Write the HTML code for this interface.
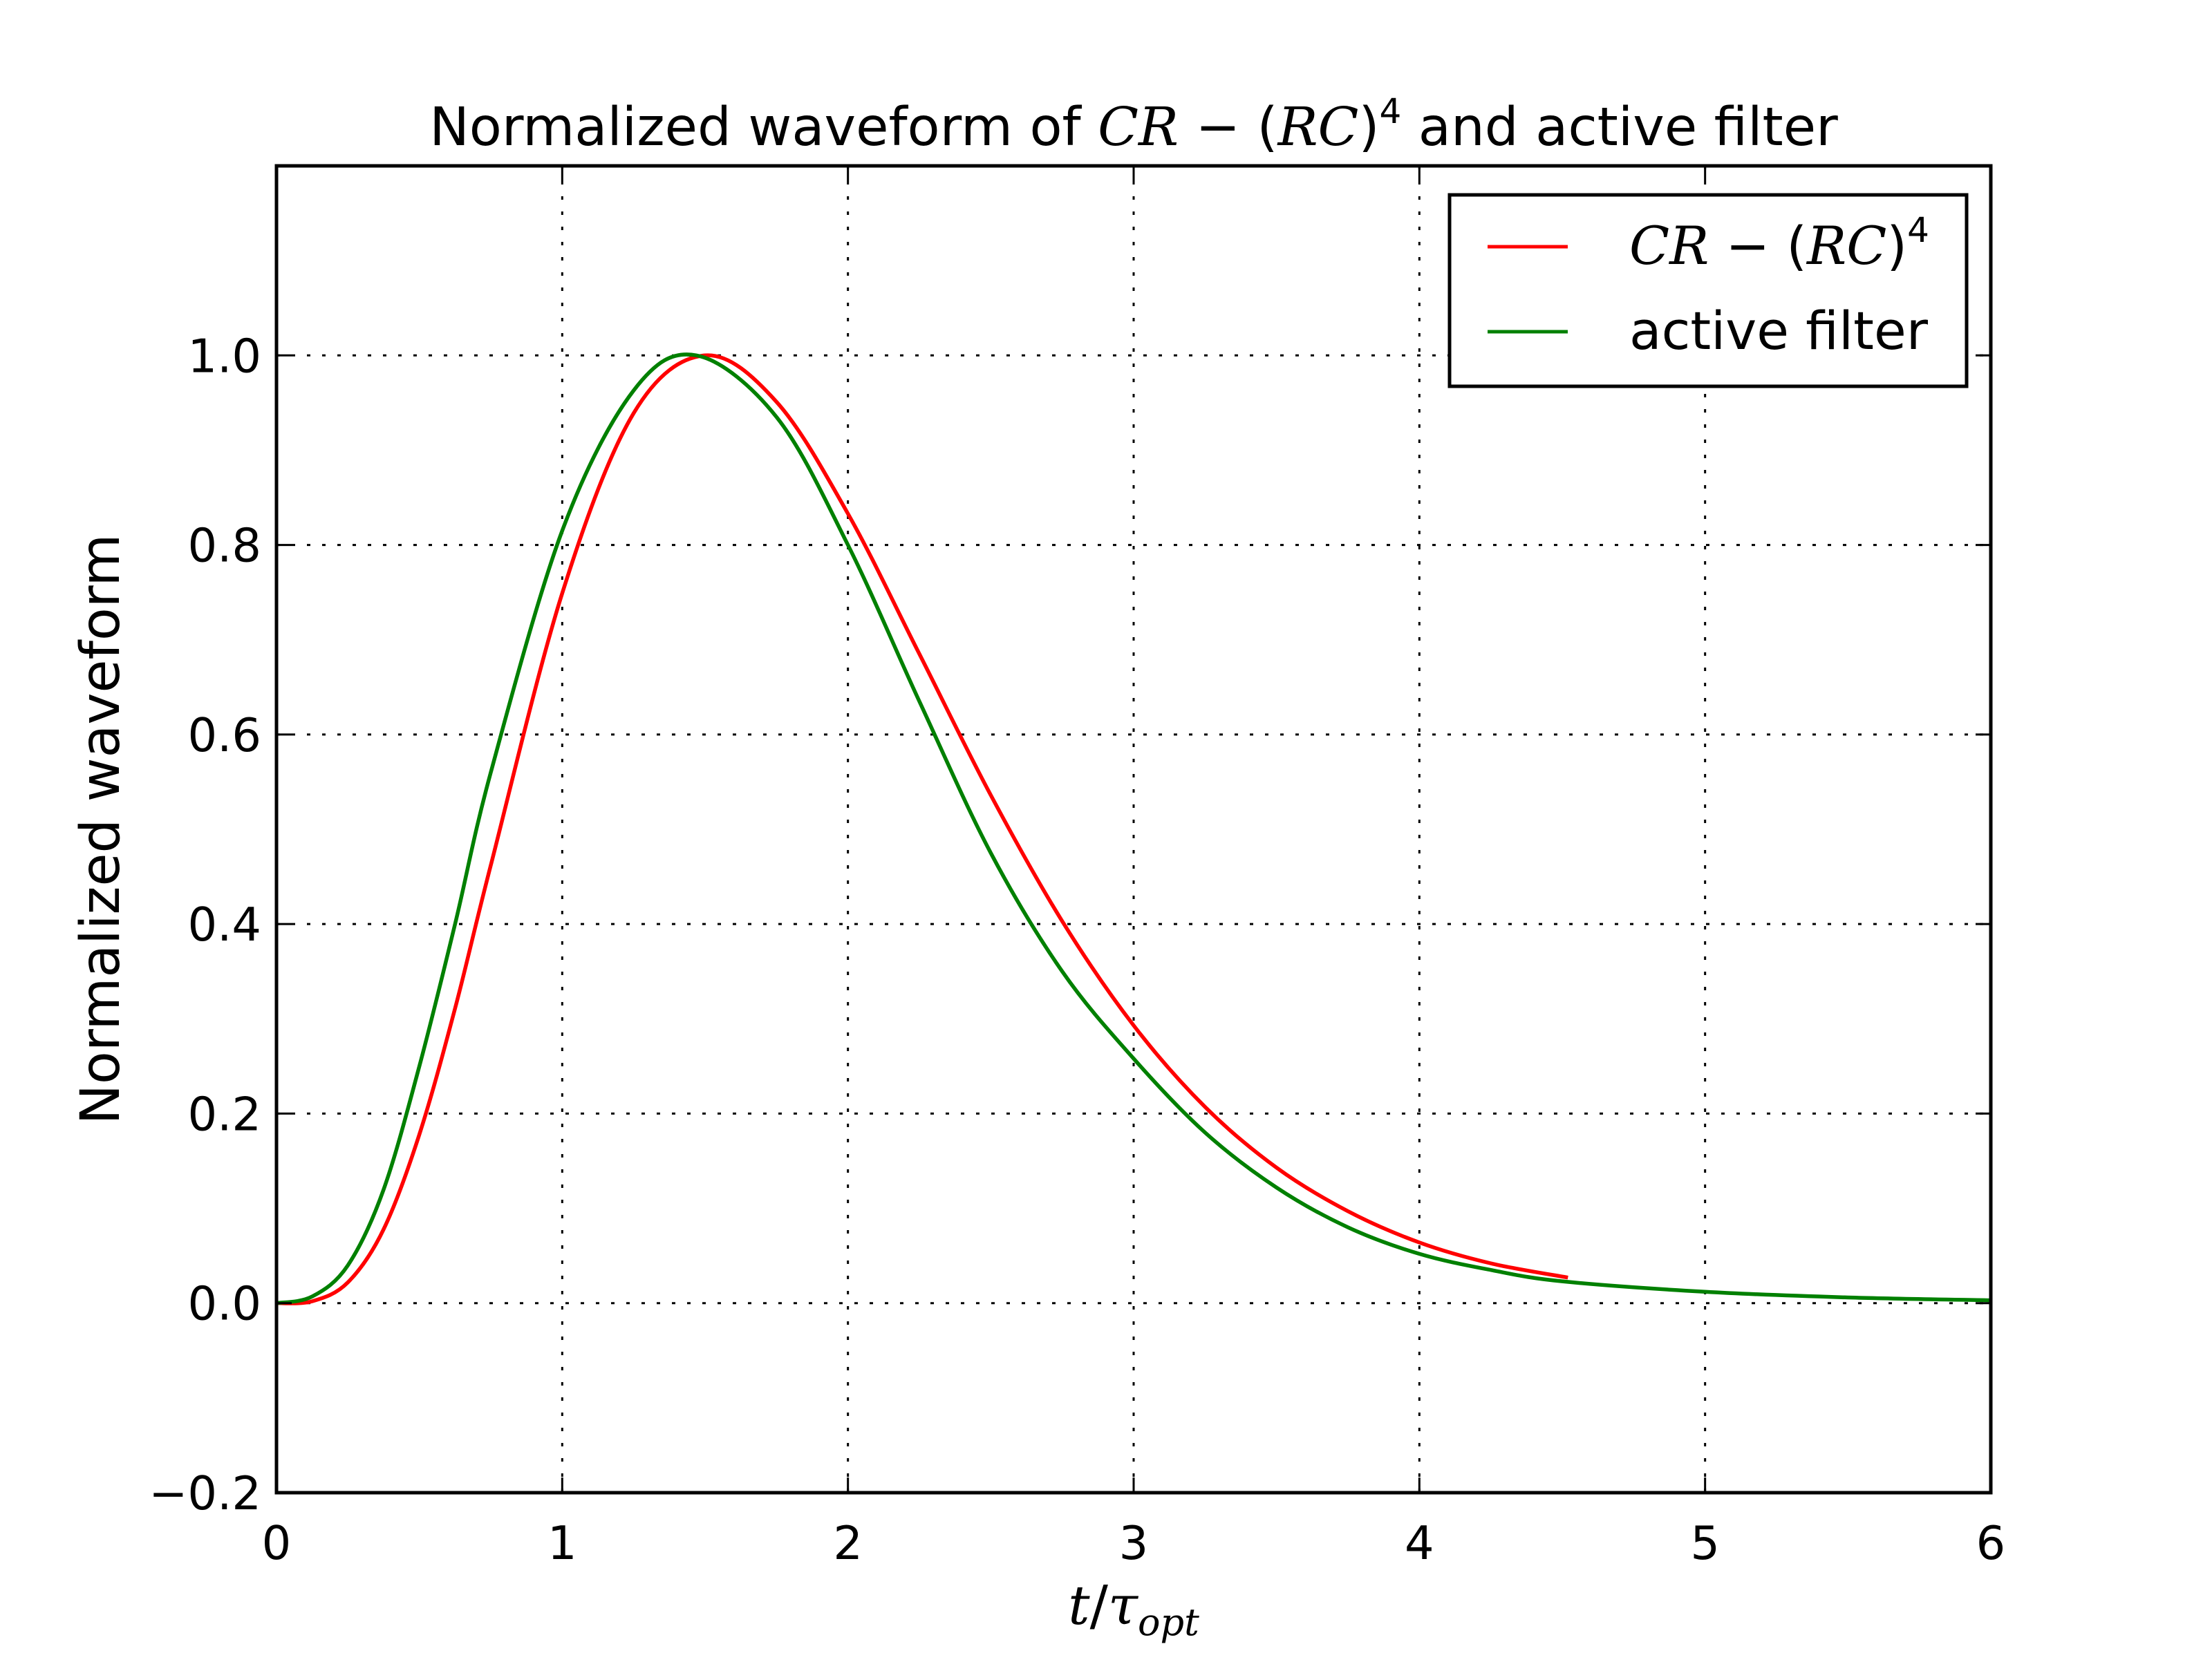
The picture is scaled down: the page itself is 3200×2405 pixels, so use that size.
<!DOCTYPE html>
<html><head><meta charset="utf-8"><style>
html,body{margin:0;padding:0;background:#fff;}
svg text{font-family:"DejaVu Sans","Liberation Sans",sans-serif;fill:#000;}
.m{font-family:"DejaVu Serif","Liberation Serif",serif;font-style:italic;}
</style></head><body>
<svg id="chart" width="3200" height="2400" viewBox="0 0 3200 2400" xmlns="http://www.w3.org/2000/svg">
<rect x="0" y="0" width="3200" height="2400" fill="#fff"/>
<g id="grid"></g>
<g id="series"></g>
<rect x="400" y="240" width="2480" height="1920" fill="none" stroke="#000" stroke-width="5"/>
<g id="ticks"></g>
<text x="1640" y="210" font-size="77" text-anchor="middle">Normalized waveform of <tspan class="m">CR</tspan> − (<tspan class="m">RC</tspan>)<tspan font-size="50" dy="-32">4</tspan><tspan dy="32"> and active filter</tspan></text>
<text transform="translate(172,1200) rotate(-90)" font-size="78" text-anchor="middle">Normalized waveform</text>
<text x="1640" y="2350" font-size="78" text-anchor="middle"><tspan class="m">t</tspan>/<tspan class="m">τ</tspan><tspan class="m" font-size="54" dy="16">opt</tspan></text>
<g>
<rect x="2097" y="282" width="748" height="277" fill="#fff" stroke="#000" stroke-width="5"/>
<line x1="2152" y1="357" x2="2268" y2="357" stroke="#ff0000" stroke-width="5"/>
<text x="2357" y="382" font-size="76"><tspan class="m">CR</tspan> − (<tspan class="m">RC</tspan>)<tspan font-size="50" dy="-32">4</tspan></text>
<line x1="2152" y1="480" x2="2268" y2="480" stroke="#008000" stroke-width="5"/>
<text x="2357" y="505" font-size="76">active filter</text>
</g>
</svg>
<script>
const xTicks=[0,1,2,3,4,5,6];
const yTicks=[-0.2,0.0,0.2,0.4,0.6,0.8,1.0];
const yTickLabels=["−0.2","0.0","0.2","0.4","0.6","0.8","1.0"];
const redT=[0,0.125,0.25,0.375,0.5,0.625,0.75,1.0,1.25,1.5,1.75,2.0,2.25,2.5,2.75,3.0,3.25,3.5,3.75,4.0,4.25,4.52];
const redV=[0,0.002,0.022,0.078,0.178,0.311,0.462,0.749,0.939,1.0,0.951,0.833,0.685,0.536,0.403,0.293,0.207,0.143,0.097,0.064,0.042,0.027];
const greenT=[0,0.125,0.25,0.375,0.5,0.625,0.75,1.0,1.25,1.47,1.75,2.0,2.25,2.5,2.75,3.0,3.25,3.5,3.75,4.0,4.25,4.5,5.0,5.5,6.0];
const greenV=[0,0.007,0.04,0.12,0.25,0.40,0.56,0.815,0.963,1.0,0.935,0.80,0.635,0.475,0.35,0.258,0.18,0.122,0.08,0.052,0.035,0.023,0.012,0.006,0.003];
const X=v=>400+(v-0)/6*2480;
const Y=v=>2160-(v+0.2)/1.4*1920;
const NS="http://www.w3.org/2000/svg";
const grid=document.getElementById('grid'),ticks=document.getElementById('ticks'),series=document.getElementById('series');
function mk(tag,attrs,parent){const e=document.createElementNS(NS,tag);for(const k in attrs)e.setAttribute(k,attrs[k]);parent.appendChild(e);return e;}
xTicks.forEach(v=>{
  const g=mk('line',{x1:X(v),x2:X(v),y1:240,y2:2160,stroke:'#000','stroke-width':3,'stroke-dasharray':'5 17'},grid);
  
  
  const t1=mk('line',{x1:X(v),x2:X(v),y1:2160,y2:2138,stroke:'#000','stroke-width':3},ticks);
  
  
  const t2=mk('line',{x1:X(v),x2:X(v),y1:240,y2:262,stroke:'#000','stroke-width':3},ticks);
  
  
  const l=mk('text',{x:X(v),y:2256,'font-size':67,'text-anchor':'middle'},ticks);l.textContent=String(v);
  
  
});
yTicks.forEach((v,i)=>{
  const g=mk('line',{x1:400,x2:2880,y1:Y(v),y2:Y(v),stroke:'#000','stroke-width':3,'stroke-dasharray':'5 17'},grid);
  
  
  const t1=mk('line',{x1:400,x2:422,y1:Y(v),y2:Y(v),stroke:'#000','stroke-width':3},ticks);
  
  
  const t2=mk('line',{x1:2858,x2:2880,y1:Y(v),y2:Y(v),stroke:'#000','stroke-width':3},ticks);
  
  
  const l=mk('text',{x:378,y:Y(v)+24,'font-size':67,'text-anchor':'end'},ticks);l.textContent=yTickLabels[i];
  
  
});
function pathFor(ts,vs){
  const p=ts.map((t,i)=>[X(t),Y(vs[i])]);
  let d='M'+p[0][0]+','+p[0][1];
  for(let i=0;i<p.length-1;i++){
    const p0=p[i-1]||p[i],p1=p[i],p2=p[i+1],p3=p[i+2]||p2;
    const c1=[p1[0]+(p2[0]-p0[0])/6,p1[1]+(p2[1]-p0[1])/6];
    const c2=[p2[0]-(p3[0]-p1[0])/6,p2[1]-(p3[1]-p1[1])/6];
    d+=' C'+c1[0]+','+c1[1]+' '+c2[0]+','+c2[1]+' '+p2[0]+','+p2[1];
  }
  return d;
}
const red=mk('path',{d:pathFor(redT,redV),fill:'none',stroke:'#ff0000','stroke-width':5.5},series);


const green=mk('path',{d:pathFor(greenT,greenV),fill:'none',stroke:'#008000','stroke-width':5.5},series);


</script>
</body></html>
